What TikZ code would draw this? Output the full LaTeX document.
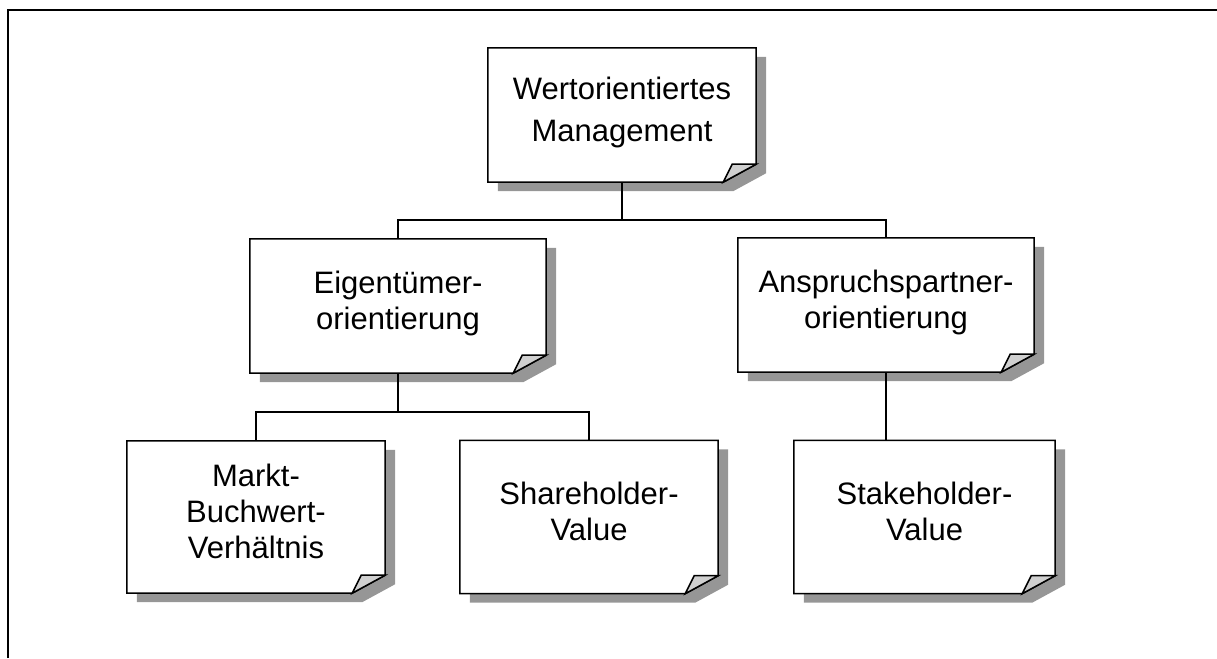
\documentclass[tikz,border=0pt]{standalone}
\usepackage{fontspec}
\setmainfont{Liberation Sans}
\usetikzlibrary{calc,backgrounds}
\definecolor{shadowgray}{RGB}{150,150,150}
\definecolor{foldgray}{RGB}{208,208,208}
\tikzset{
  notebox/.style={rectangle, inner sep=0pt, align=center, text depth=12pt,
    font=\fontsize{31}{36}\selectfont},
  outline/.style={draw=black, line width=1.5pt, line join=miter},
  link/.style={draw=black, line width=1.4pt},
  frame/.style={draw=black, line width=2pt},
}
% note sheet with drop shadow and a dog-eared lower right corner
\newcommand\drawnote[1]{%
  \fill[shadowgray] ($(#1.north west)+(10,-9)$) -- ($(#1.north east)+(10,-9)$)
    -- ($(#1.south east)+(10,9)$) -- ($(#1.south east)+(-23,-9)$)
    -- ($(#1.south west)+(10,-9)$) -- cycle;
  \filldraw[fill=white, outline] (#1.north west) -- (#1.north east)
    -- ($(#1.south east)+(0,18)$) -- ($(#1.south east)+(-33,0)$)
    -- (#1.south west) -- cycle;
  \filldraw[fill=foldgray, outline] ($(#1.south east)+(-33,0)$)
    -- ($(#1.south east)+(-24,18)$) -- ($(#1.south east)+(0,18)$) -- cycle;
}
\begin{document}
\begin{tikzpicture}[x=1pt,y=1pt]
\useasboundingbox (0,0) rectangle (1217,658);
\draw[frame] (8,0) -- (8,647.5) -- (1217,647.5);

\node[notebox, minimum width=268pt, minimum height=134pt,
  font=\fontsize{31}{42}\selectfont] (top) at (622,543)
  {Wertorientiertes\\Management};
\node[notebox, minimum width=296pt, minimum height=134pt] (eig) at (398,352)
  {Eigentümer-\\orientierung};
\node[notebox, minimum width=296pt, minimum height=134pt] (ans) at (886,353)
  {Anspruchspartner-\\orientierung};
\node[notebox, minimum width=258pt, minimum height=152pt] (markt) at (256,141)
  {Markt-\\Buchwert-\\Verhältnis};
\node[notebox, minimum width=258pt, minimum height=153pt] (share) at (589,141)
  {Shareholder-\\Value};
\node[notebox, minimum width=261pt, minimum height=153pt] (stake) at (924.5,141)
  {Stakeholder-\\Value};

\begin{scope}[on background layer]
  \drawnote{top}
  \drawnote{eig}
  \drawnote{ans}
  \drawnote{markt}
  \drawnote{share}
  \drawnote{stake}
\end{scope}

\draw[link] (top.south) -- ++(0,-38) coordinate (split1);
\draw[link] (eig.north) |- (split1) -| (ans.north);
\draw[link] (eig.south) -- ++(0,-39) coordinate (split2);
\draw[link] (markt.north) |- (split2) -| (share.north);
\draw[link] (ans.south) -- (ans.south |- stake.north);
\end{tikzpicture}
\end{document}
